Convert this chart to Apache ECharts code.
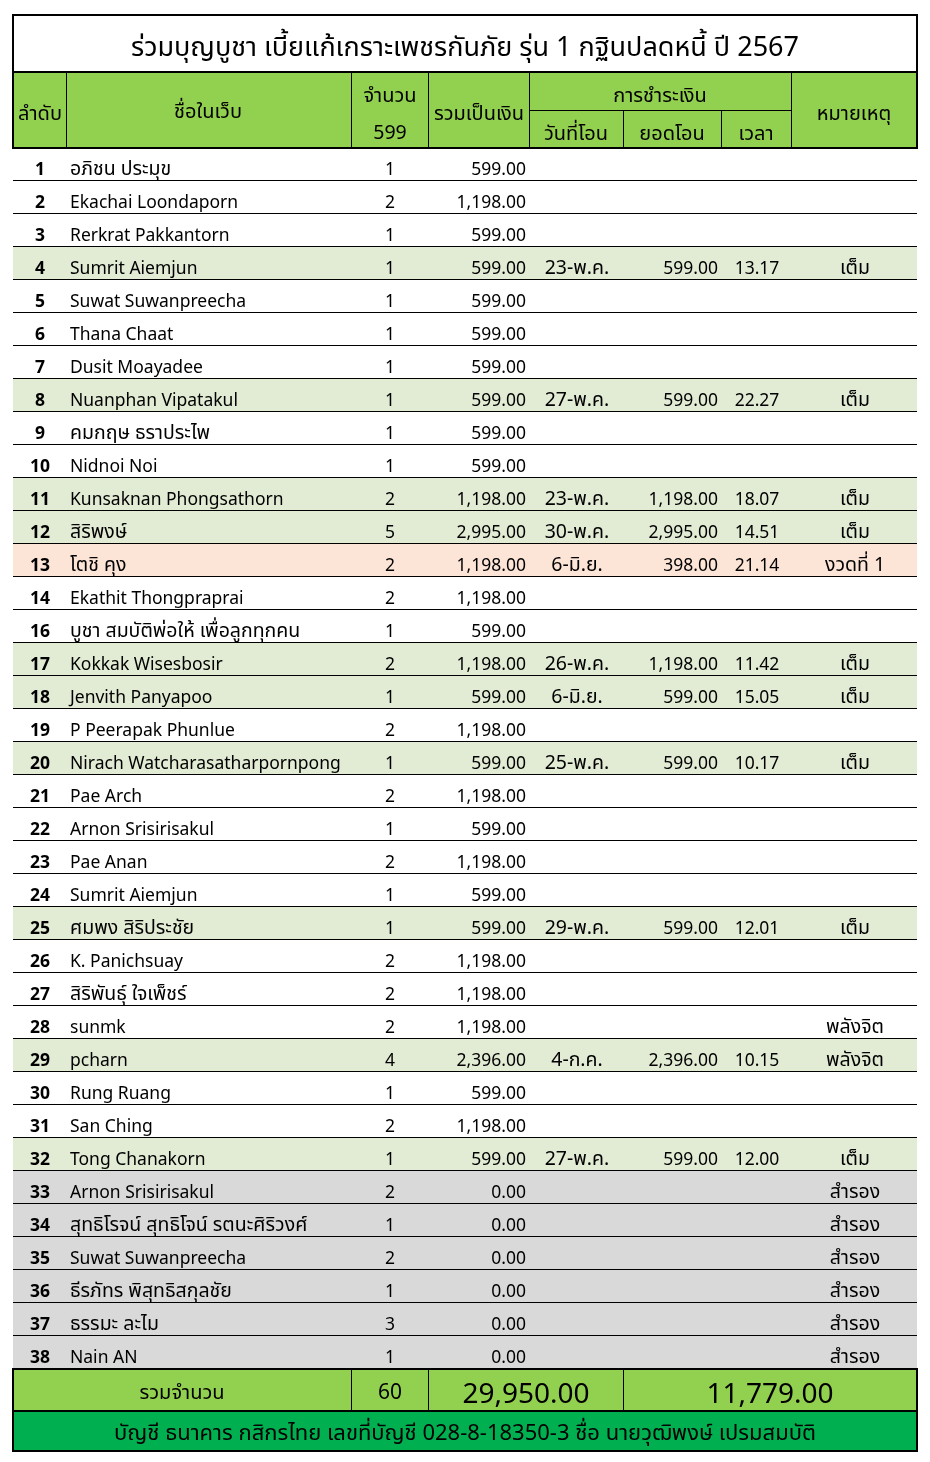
<!DOCTYPE html>
<html><head><meta charset="utf-8">
<script src="https://cdn.jsdelivr.net/npm/echarts@6/dist/echarts.min.js"></script>
<style>html,body{margin:0;padding:0;background:#fff}#c{width:930px;height:1462px}</style>
</head><body><div id="c"></div>
<script>
const title = 'ร่วมบุญบูชา เบี้ยแก้เกราะเพชรกันภัย รุ่น 1 กฐินปลดหนี้ ปี 2567';
const footerText = 'บัญชี ธนาคาร กสิกรไทย เลขที่บัญชี 028-8-18350-3 ชื่อ นายวุฒิพงษ์ เปรมสมบัติ';
const headers = ['ลำดับ','ชื่อในเว็บ','จำนวน','599','รวมเป็นเงิน','การชำระเงิน','วันที่โอน','ยอดโอน','เวลา','หมายเหตุ'];
const totalLabels = ['รวมจำนวน','60','29,950.00','11,779.00'];

const ids = [1,2,3,4,5,6,7,8,9,10,11,12,13,14,16,17,18,19,20,21,22,23,24,25,26,27,28,29,30,31,32,33,34,35,36,37,38];
const names = ['อภิชน ประมุข','Ekachai Loondaporn','Rerkrat Pakkantorn','Sumrit Aiemjun','Suwat Suwanpreecha','Thana Chaat','Dusit Moayadee','Nuanphan Vipatakul','คมกฤษ ธราประไพ','Nidnoi Noi','Kunsaknan Phongsathorn','สิริพงษ์','โตชิ คุง','Ekathit Thongpraprai','บูชา สมบัติพ่อให้ เพื่อลูกทุกคน','Kokkak Wisesbosir','Jenvith Panyapoo','P Peerapak Phunlue','Nirach Watcharasatharpornpong','Pae Arch','Arnon Srisirisakul','Pae Anan','Sumrit Aiemjun','ศมพง สิริประชัย','K. Panichsuay','สิริพันธุ์ ใจเพ็ชร์','sunmk','pcharn','Rung Ruang','San Ching','Tong Chanakorn','Arnon Srisirisakul','สุทธิโรจน์ สุทธิโจน์ รตนะศิริวงศ์','Suwat Suwanpreecha','ธีรภัทร พิสุทธิสกุลชัย','ธรรมะ ละไม','Nain AN'];
const qty = [1,2,1,1,1,1,1,1,1,1,2,5,2,2,1,2,1,2,1,2,1,2,1,1,2,2,2,4,1,2,1,2,1,2,1,3,1];
const amounts = [599,1198,599,599,599,599,599,599,599,599,1198,2995,1198,1198,599,1198,599,1198,599,1198,599,1198,599,599,1198,1198,1198,2396,599,1198,599,0,0,0,0,0,0];
const dates = ['','','','23-พ.ค.','','','','27-พ.ค.','','','23-พ.ค.','30-พ.ค.','6-มิ.ย.','','','26-พ.ค.','6-มิ.ย.','','25-พ.ค.','','','','','29-พ.ค.','','','','4-ก.ค.','','','27-พ.ค.','','','','','',''];
const paid = [null,null,null,599,null,null,null,599,null,null,1198,2995,398,null,null,1198,599,null,599,null,null,null,null,599,null,null,null,2396,null,null,599,null,null,null,null,null,null];
const times = ['','','','13.17','','','','22.27','','','18.07','14.51','21.14','','','11.42','15.05','','10.17','','','','','12.01','','','','10.15','','','12.00','','','','','',''];
const remarks = ['','','','เต็ม','','','','เต็ม','','','เต็ม','เต็ม','งวดที่ 1','','','เต็ม','เต็ม','','เต็ม','','','','','เต็ม','','','พลังจิต','พลังจิต','','','เต็ม','สำรอง','สำรอง','สำรอง','สำรอง','สำรอง','สำรอง'];

const FONT = "Tahoma, 'Noto Sans Thai', 'Noto Sans', 'DejaVu Sans', sans-serif";
const fmt = v => v == null ? '' : v.toLocaleString('en-US', {minimumFractionDigits: 2, maximumFractionDigits: 2});
const rowColor = i => remarks[i] === 'สำรอง' ? '#D9D9D9' : (remarks[i] === 'งวดที่ 1' ? '#FCE4D6' : (dates[i] ? '#E2EBD3' : '#FFFFFF'));
const isThai = s => /[\u0E00-\u0E7F]/.test(s);

const chart = echarts.init(document.getElementById('c'), null, {renderer: 'canvas'});

function txt(x, y, s, size, align, weight) {
  return {type: 'text', x: x, y: y, style: {text: s, font: (weight||'normal') + ' ' + size + 'px ' + FONT, fill: '#000', align: align || 'center', verticalAlign: 'middle'}};
}
function ln(x1, y1, x2, y2, w) {
  return {type: 'line', shape: {x1: x1, y1: y1, x2: x2, y2: y2}, style: {stroke: '#000', lineWidth: w || 1}};
}

function renderItem(params, api) {
  const i = api.value(0);
  const c = api.coord([0, i]);
  const h = api.size([0, 1])[1];
  const X = v => api.coord([v, i])[0];
  const top = c[1] - h / 2, bot = c[1] + h / 2, ty = c[1] + 7;
  const fs = s => isThai(s) ? 19.5 : 17.5;
  const cell = (x, s, align, w) => txt(X(x), ty, s, fs(s), align, w);
  const ch = [
    {type: 'rect', shape: {x: X(13), y: top, width: X(917) - X(13), height: h}, style: {fill: rowColor(i)}},
    {type: 'line', shape: {x1: X(13), y1: Math.round(bot) - 0.5, x2: X(917), y2: Math.round(bot) - 0.5}, style: {stroke: '#000', lineWidth: 1}},
    cell(40, String(ids[i]), 'center', 'bold'),
    cell(70, names[i], 'left'),
    cell(390, String(qty[i]), 'center'),
    cell(526, fmt(amounts[i]), 'right'),
    cell(577, dates[i], 'center'),
    cell(718, fmt(paid[i]), 'right'),
    cell(757, times[i], 'center'),
    cell(855, remarks[i], 'center')
  ];
  return {type: 'group', children: ch};
}

const graphic = [
  {type: 'rect', shape: {x: 13, y: 15, width: 904, height: 57}, style: {fill: '#fff', stroke: '#000', lineWidth: 2}},
  txt(465, 51, title, 27),
  {type: 'rect', shape: {x: 13, y: 72, width: 904, height: 76}, style: {fill: '#92D050', stroke: '#000', lineWidth: 2}},
  ln(66.5, 72, 66.5, 148), ln(351.5, 72, 351.5, 148), ln(428.5, 72, 428.5, 148), ln(529.5, 72, 529.5, 148), ln(791.5, 72, 791.5, 148),
  ln(529.5, 110.5, 791.5, 110.5), ln(623.5, 110, 623.5, 148), ln(721.5, 110, 721.5, 148),
  txt(40, 116, headers[0], 20), txt(208, 114, headers[1], 20), txt(390, 98, headers[2], 20), txt(390, 135, headers[3], 19.5),
  txt(479, 116, headers[4], 20), txt(660, 98, headers[5], 20), txt(576, 136, headers[6], 20), txt(672, 136, headers[7], 20),
  txt(756, 136, headers[8], 20), txt(854, 116, headers[9], 20),
  {type: 'rect', shape: {x: 13, y: 1369, width: 904, height: 42}, style: {fill: '#92D050', stroke: '#000', lineWidth: 2}},
  ln(351.5, 1369, 351.5, 1411), ln(428.5, 1369, 428.5, 1411), ln(623.5, 1369, 623.5, 1411),
  txt(182, 1395, totalLabels[0], 20), txt(390, 1395, totalLabels[1], 21), txt(526, 1397, totalLabels[2], 28), txt(770, 1397, totalLabels[3], 28),
  {type: 'rect', shape: {x: 13, y: 1411, width: 904, height: 40}, style: {fill: '#00B050', stroke: '#000', lineWidth: 2}},
  txt(465, 1436, footerText, 22)
];

chart.setOption({
  animation: false,
  backgroundColor: '#fff',
  grid: {left: 0, right: 0, top: 148, height: 1221, containLabel: false},
  xAxis: {type: 'value', min: 0, max: 930, show: false},
  yAxis: {type: 'category', data: ids.map(String), inverse: true, show: false},
  series: [{type: 'custom', renderItem: renderItem, data: ids.map((d, i) => [i]), encode: {y: 0}, clip: false, z: 1}],
  graphic: graphic.map(g => Object.assign({z: 10}, g))
});
</script></body></html>
